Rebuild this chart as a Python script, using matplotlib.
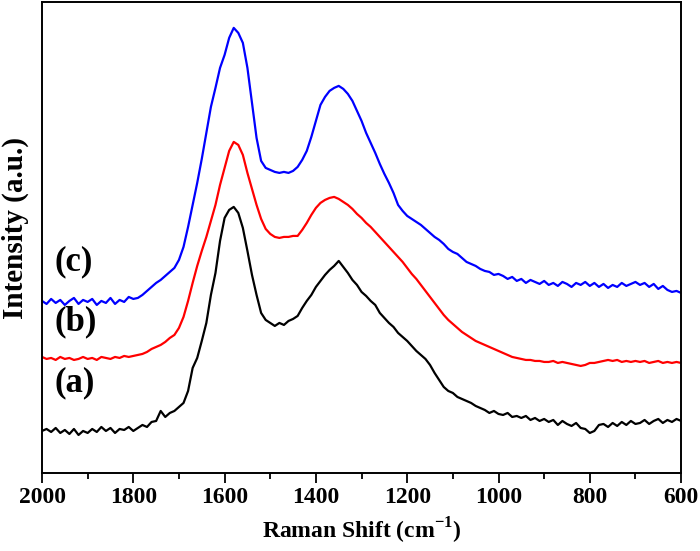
import numpy as np
import matplotlib
matplotlib.use("Agg")
import matplotlib.pyplot as plt
from matplotlib.ticker import MultipleLocator

# Raman shift grid (cm^-1)
shift = list(range(2000, 599, -10))

# (a) black
spec_a = [42, 44, 41, 45, 40, 43, 39, 44, 38, 42,
          40, 44, 41, 46, 42, 45, 40, 44, 43, 46,
          42, 45, 48, 46, 51, 52, 62, 56, 60, 62,
          66, 70, 82, 105, 115, 132, 150, 178, 200, 232,
          255, 263, 266, 260, 245, 222, 198, 178, 160, 153,
          150, 147, 150, 148, 152, 154, 157, 165, 172, 178,
          186, 192, 198, 203, 207, 212, 206, 200, 193, 188,
          181, 177, 172, 168, 160, 155, 150, 146, 140, 136,
          132, 127, 122, 118, 114, 108, 100, 93, 86, 82,
          80, 76, 74, 72, 70, 67, 65, 63, 60, 62,
          59, 58, 60, 56, 57, 55, 57, 53, 55, 52,
          54, 51, 53, 48, 52, 49, 47, 50, 45, 44,
          40, 42, 48, 49, 46, 50, 47, 51, 48, 52,
          49, 50, 53, 49, 52, 54, 50, 53, 51, 54,
          52]

# (b) red
spec_b = [116, 114, 115, 113, 116, 114, 115, 113, 114, 116,
          114, 115, 113, 116, 115, 114, 116, 115, 117, 116,
          117, 118, 119, 121, 124, 126, 128, 131, 135, 138,
          145, 156, 172, 190, 207, 222, 236, 252, 268, 288,
          305, 322, 331, 328, 318, 300, 284, 268, 254, 244,
          239, 236, 235, 236, 236, 237, 237, 243, 250, 258,
          265, 270, 273, 275, 276, 274, 271, 268, 264, 259,
          255, 250, 246, 241, 236, 231, 226, 221, 216, 211,
          205, 199, 194, 188, 182, 176, 170, 164, 158, 153,
          149, 145, 141, 138, 135, 132, 130, 128, 126, 124,
          122, 120, 118, 116, 115, 114, 113, 113, 112, 112,
          111, 111, 112, 110, 111, 110, 109, 108, 107, 108,
          110, 110, 111, 112, 113, 112, 113, 111, 112, 111,
          112, 111, 112, 110, 111, 112, 110, 111, 110, 111,
          110]

# (c) blue
spec_c = [172, 169, 174, 170, 173, 168, 172, 175, 169, 173,
          171, 174, 168, 172, 170, 175, 169, 173, 171, 176,
          174, 175, 178, 182, 186, 190, 193, 197, 201, 205,
          213, 226, 246, 268, 290, 314, 340, 366, 385, 405,
          418, 435, 445, 440, 430, 405, 370, 335, 312, 305,
          303, 301, 300, 301, 300, 302, 306, 313, 322, 336,
          352, 368, 376, 382, 385, 387, 384, 379, 372, 362,
          352, 340, 330, 320, 309, 299, 290, 280, 268, 262,
          257, 254, 251, 248, 244, 240, 236, 233, 229, 224,
          221, 219, 215, 211, 209, 207, 204, 202, 201, 198,
          199, 197, 194, 196, 192, 194, 190, 193, 191, 189,
          192, 188, 190, 187, 191, 189, 186, 190, 188, 191,
          187, 190, 186, 189, 185, 188, 186, 190, 187, 189,
          191, 188, 190, 186, 189, 184, 187, 183, 181, 182,
          180]

labels = ["(a)", "(b)", "(c)"]
colors = ["black", "red", "blue"]
label_y = [90, 151, 211]

xticks = [2000, 1800, 1600, 1400, 1200, 1000, 800, 600]

plt.rcParams['font.family'] = ['Liberation Serif', 'DejaVu Serif']
plt.rcParams['font.weight'] = 'bold'
plt.rcParams['mathtext.fontset'] = 'custom'
plt.rcParams['mathtext.rm'] = 'Liberation Serif:bold'
plt.rcParams['mathtext.bf'] = 'Liberation Serif:bold'

fig = plt.figure(figsize=(7.0, 5.51), dpi=100)
ax = fig.add_axes([0.06, 0.1416, 0.913, 0.855])

for s, c in zip([spec_a, spec_b, spec_c], colors):
    ax.plot(shift, s, color=c, lw=1.6)

for lab, yy in zip(labels, label_y):
    ax.text(1972, yy, lab, fontsize=25, fontweight='bold', va='center', ha='left')

ax.set_xlim(2000, 600)
ax.set_ylim(0, 471)
ax.set_xticks(xticks)
ax.set_xticklabels([str(t) for t in xticks])
ax.xaxis.set_minor_locator(MultipleLocator(100))
ax.tick_params(axis='x', which='major', direction='out', length=7, width=1.3,
               labelsize=17, top=False, pad=3)
ax.tick_params(axis='x', which='minor', direction='out', length=4.5, width=1.3, top=False)
ax.set_yticks([])
for sp in ax.spines.values():
    sp.set_linewidth(1.4)

ax.set_xlabel("Raman Shift (cm$^{\\mathregular{-1}}$)", fontsize=17, fontweight='bold', labelpad=6)
ax.set_ylabel("Intensity (a.u.)", fontsize=21, fontweight='bold')
ax.yaxis.set_label_coords(-0.021, 0.52)

fig.savefig("out.png", dpi=100)
